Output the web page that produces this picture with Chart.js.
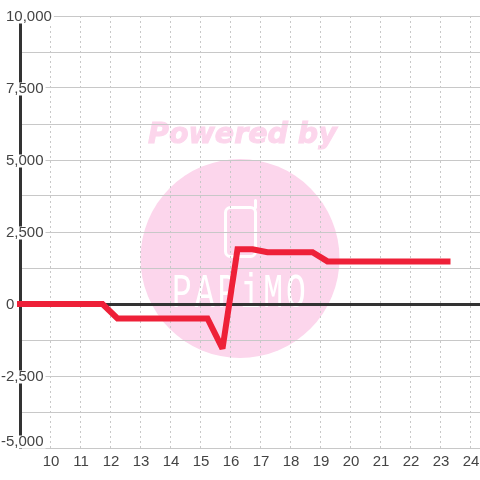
<!DOCTYPE html>
<html>
<head>
<meta charset="utf-8">
<style>
  html, body { margin: 0; padding: 0; background: #fff; }
  canvas { display: block; }
</style>
<script src="https://cdn.jsdelivr.net/npm/chart.js@4/dist/chart.umd.min.js"></script>
</head>
<body>
<canvas id="chart" width="480" height="480"></canvas>
<script>
// breakpoints of the line
var hours = [9, 11.75, 12.25, 15.25, 15.75, 16.25, 16.75, 17.25, 18.75, 19.25, 23.25];
var values = [0, 0, -500, -500, -1550, 1900, 1900, 1800, 1800, 1480, 1480];

var xTicks = [10, 11, 12, 13, 14, 15, 16, 17, 18, 19, 20, 21, 22, 23, 24];
var yTicks = [-5000, -3750, -2500, -1250, 0, 1250, 2500, 3750, 5000, 6250, 7500, 8750, 10000];
var yLabelled = [-5000, -2500, 0, 2500, 5000, 7500, 10000];

var textColor = '#444444';
var gridColor = '#c8c8c8';
var axisColor = '#333333';
var lineColor = '#ee2038';
var pink = '#fcd6ec';

// pink logo behind the grid
var watermark = {
    id: 'watermark',
    beforeDraw: function (chart) {
        var ctx = chart.ctx;
        ctx.save();
        ctx.fillStyle = '#ffffff';
        ctx.fillRect(0, 0, chart.width, chart.height);

        ctx.fillStyle = pink;
        ctx.beginPath();
        ctx.arc(240, 258.5, 99.5, 0, Math.PI * 2);
        ctx.fill();

        ctx.font = 'italic bold 28.5px "DejaVu Sans"';
        ctx.textBaseline = 'alphabetic';
        ctx.textAlign = 'left';
        ctx.strokeStyle = pink;
        ctx.lineWidth = 1;
        ctx.fillText('Powered by', 148, 143);
        ctx.strokeText('Powered by', 148, 143);

        // phone
        ctx.strokeStyle = '#ffffff';
        ctx.lineWidth = 3;
        ctx.lineCap = 'round';
        ctx.beginPath();
        ctx.roundRect(225.5, 207.5, 30, 49, 5);
        ctx.moveTo(255.5, 207.5);
        ctx.lineTo(255.5, 200.5);
        ctx.stroke();

        ctx.fillStyle = '#ffffff';
        ctx.font = '33px "Liberation Mono"';
        ctx.letterSpacing = '3px';
        ctx.translate(172, 307);
        ctx.scale(1, 1.48);
        ctx.fillText('PAPiMO', 0, 0);
        ctx.restore();
    }
};

// tick label nudges: minus sign hangs to the left, the lowest y label sits above its tick
var labelTweak = {
    id: 'labelTweak',
    beforeDraw: function (chart) {
        chart.scales.y.getLabelItems().forEach(function (item) {
            var text = String(item.label);
            item.options.translation[1] += 1;
            if (text.charAt(0) === '-') {
                item.options.translation[0] -= 5;
            }
            if (text === '-5,000') {
                item.options.translation[1] -= 7;
            }
        });
        chart.scales.x.getLabelItems().forEach(function (item) {
            item.options.translation[0] += 1;
        });
    },
    beforeDatasetsDraw: function (chart) {
        chart.ctx.miterLimit = 2;
    }
};

var points = hours.map(function (h, i) {
    return { x: h, y: values[i] };
});

new Chart(document.getElementById('chart'), {
    type: 'line',
    data: {
        datasets: [{
            data: points,
            borderColor: lineColor,
            borderWidth: 6,
            borderCapStyle: 'square',
            borderJoinStyle: 'miter',
            tension: 0,
            pointRadius: 0,
            clip: false
        }]
    },
    options: {
        responsive: false,
        animation: false,
        layout: { padding: { top: 16, left: 6, right: 0, bottom: 0 } },
        plugins: {
            legend: { display: false },
            title: { display: false },
            tooltip: { enabled: false }
        },
        scales: {
            x: {
                type: 'linear',
                min: 9,
                max: 24 + 1 / 3,
                afterBuildTicks: function (scale) {
                    scale.ticks = xTicks.map(function (v) { return { value: v }; });
                },
                afterFit: function (scale) {
                    scale.height = 32;
                    scale.paddingLeft = 0;
                    scale.paddingRight = 0;
                },
                grid: { color: gridColor, lineWidth: 1, drawTicks: false },
                border: { display: false, dash: [2, 3] },
                ticks: {
                    color: textColor,
                    font: { family: '"Liberation Sans"', size: 15 },
                    padding: 5,
                    maxRotation: 0,
                    autoSkip: false,
                    callback: function (v) { return String(v); }
                }
            },
            y: {
                type: 'linear',
                min: -5000,
                max: 10000,
                afterBuildTicks: function (scale) {
                    scale.ticks = yTicks.map(function (v) { return { value: v }; });
                },
                afterFit: function (scale) {
                    scale.width = 14;
                    scale.paddingTop = 0;
                    scale.paddingBottom = 0;
                },
                grid: {
                    drawTicks: false,
                    color: function (c) { return c.tick && c.tick.value === 0 ? axisColor : gridColor; },
                    lineWidth: function (c) { return c.tick && c.tick.value === 0 ? 3 : 1; }
                },
                border: { display: true, color: axisColor, width: 3 },
                ticks: {
                    color: textColor,
                    font: { family: '"Liberation Sans"', size: 15, lineHeight: 13 / 15 },
                    mirror: true,
                    padding: -14,
                    autoSkip: false,
                    showLabelBackdrop: true,
                    backdropColor: '#ffffff',
                    backdropPadding: { left: 0, right: 2, top: 0, bottom: 0 },
                    callback: function (v) {
                        return yLabelled.indexOf(v) >= 0 ? v.toLocaleString('en-US') : '';
                    }
                }
            }
        }
    },
    plugins: [watermark, labelTweak]
});
</script>
</body>
</html>
